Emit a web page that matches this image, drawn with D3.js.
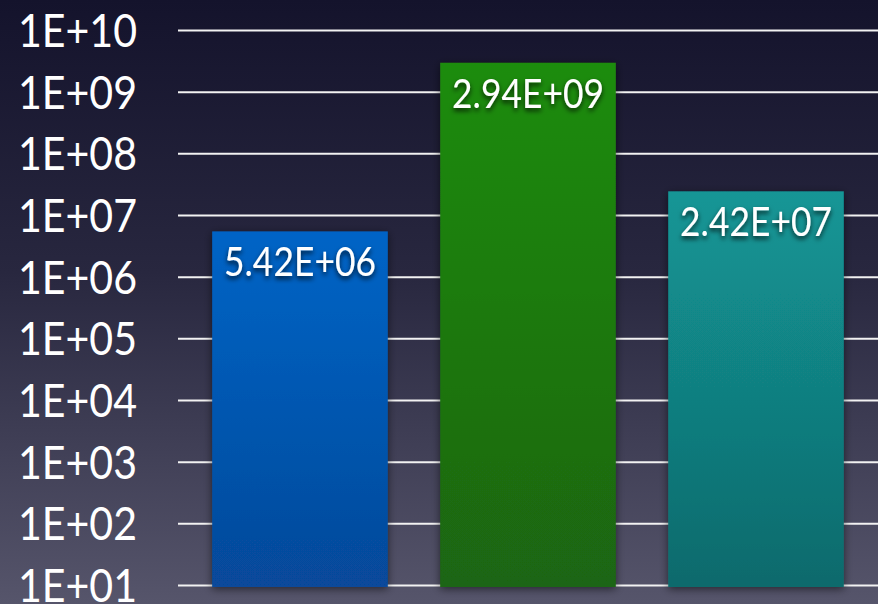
<!DOCTYPE html>
<html>
<head>
<meta charset="utf-8">
<script src="https://cdn.jsdelivr.net/npm/d3@7"></script>
<style>
  html, body { margin: 0; padding: 0; background: #1a1a33; }
  svg { display: block; }
</style>
</head>
<body>
<svg id="chart" width="878" height="604"></svg>
<script>
const categories = ["A", "B", "C"];
const values = [5.42e6, 2.94e9, 2.42e7];
const valueLabels = ["5.42E+06", "2.94E+09", "2.42E+07"];
const tickValues = [1e10, 1e9, 1e8, 1e7, 1e6, 1e5, 1e4, 1e3, 1e2, 1e1];
const tickLabels = ["1E+10", "1E+09", "1E+08", "1E+07", "1E+06", "1E+05", "1E+04", "1E+03", "1E+02", "1E+01"];
const barTop = ["#0064c6", "#1f8c0e", "#139696"];
const barBottom = ["#07499a", "#1a6512", "#0f6a6c"];

const W = 878, H = 604;
const svg = d3.select("#chart");
const defs = svg.append("defs");

const bg = defs.append("linearGradient").attr("id", "bg").attr("x1", 0).attr("y1", 0).attr("x2", 0).attr("y2", 1);
bg.append("stop").attr("offset", "0%").attr("stop-color", "#14132c");
bg.append("stop").attr("offset", "45%").attr("stop-color", "#28273f");
bg.append("stop").attr("offset", "100%").attr("stop-color", "#56556b");

categories.forEach((c, i) => {
  const g = defs.append("linearGradient").attr("id", "bar" + i).attr("x1", 0).attr("y1", 0).attr("x2", 0).attr("y2", 1);
  g.append("stop").attr("offset", "0%").attr("stop-color", barTop[i]);
  g.append("stop").attr("offset", "100%").attr("stop-color", barBottom[i]);
});

const sh = defs.append("filter").attr("id", "barShadow").attr("x", "-20%").attr("y", "-20%").attr("width", "140%").attr("height", "140%");
sh.append("feDropShadow").attr("dx", 0).attr("dy", 2).attr("stdDeviation", 4).attr("flood-color", "#000").attr("flood-opacity", 0.55);

const tsh = defs.append("filter").attr("id", "textShadow").attr("x", "-20%").attr("y", "-30%").attr("width", "140%").attr("height", "170%");
tsh.append("feDropShadow").attr("dx", 0).attr("dy", 3).attr("stdDeviation", 2.5).attr("flood-color", "#000").attr("flood-opacity", 0.75);

svg.append("rect").attr("width", W).attr("height", H).attr("fill", "url(#bg)");

const y = d3.scaleLog().domain([1e1, 1e10]).range([585, 30]);
const x = d3.scaleBand().domain(categories).range([178, 878]).paddingInner(0.23).paddingOuter(0.15);

// gridlines via axis
const grid = svg.append("g").attr("transform", "translate(878,0)")
  .call(d3.axisLeft(y).tickValues(tickValues).tickSize(700).tickFormat(""));
grid.select(".domain").remove();
grid.selectAll(".tick line").attr("stroke", "#f2f2f2").attr("stroke-width", 2);

// tick labels
svg.append("g").selectAll("text").data(tickValues).join("text")
  .attr("x", 18).attr("y", d => y(d))
  .attr("dy", "0.36em")
  .attr("fill", "#ffffff")
  .attr("font-family", "Lato, 'Open Sans', sans-serif")
  .attr("font-size", 47)
  .attr("textLength", 119)
  .attr("lengthAdjust", "spacingAndGlyphs")
  .text((d, i) => tickLabels[i]);

// bars
svg.append("g").selectAll("rect").data(values).join("rect")
  .attr("x", (d, i) => x(categories[i]))
  .attr("width", x.bandwidth())
  .attr("y", d => y(d))
  .attr("height", d => y(1e1) - y(d) + 2)
  .attr("fill", (d, i) => `url(#bar${i})`)
  .attr("filter", "url(#barShadow)");

// value labels
svg.append("g").selectAll("text").data(values).join("text")
  .attr("x", (d, i) => x(categories[i]) + x.bandwidth() / 2)
  .attr("y", d => y(d) + 45)
  .attr("text-anchor", "middle")
  .attr("fill", "#ffffff")
  .attr("font-family", "Lato, 'Open Sans', sans-serif")
  .attr("font-size", 40)
  .attr("textLength", 152)
  .attr("lengthAdjust", "spacingAndGlyphs")
  .attr("filter", "url(#textShadow)")
  .text((d, i) => valueLabels[i]);
</script>
</body>
</html>
